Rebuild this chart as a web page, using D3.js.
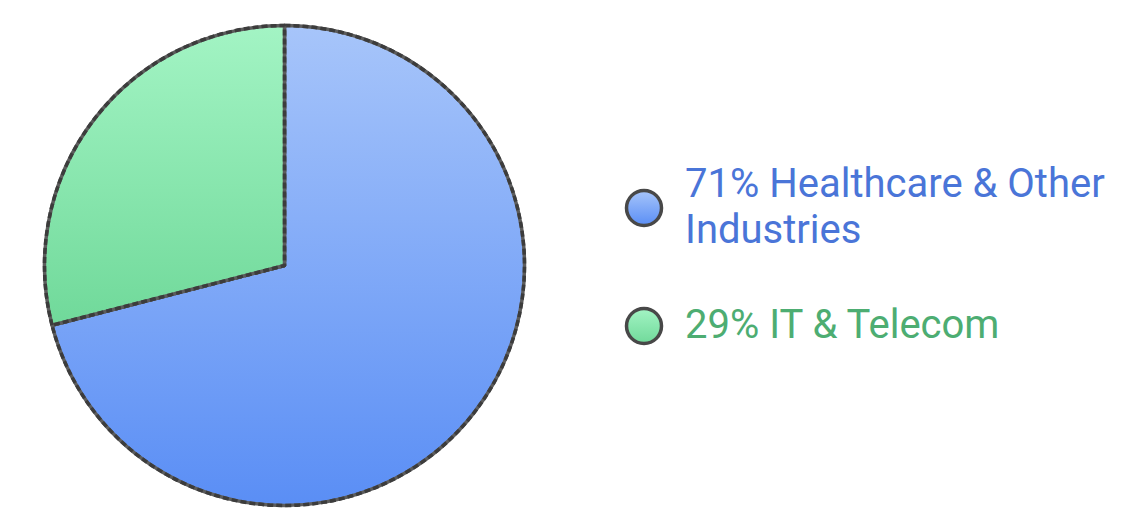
<!DOCTYPE html>
<html>
<head>
<meta charset="utf-8">
<script src="https://cdn.jsdelivr.net/npm/d3@7"></script>
<style>
  body { margin: 0; background: #fff; }
  svg { display: block; font-family: Roboto, "Noto Sans", sans-serif; }
</style>
</head>
<body>
<div id="chart"></div>
<script>
// data
const categories = ["Healthcare & Other Industries", "IT & Telecom"];
const shares = [71, 29];
const legendLines = [["71% Healthcare & Other", "Industries"], ["29% IT & Telecom"]];
const gradTop = ["#a7c5fa", "#a3f4c4"];
const gradBottom = ["#5a8ef5", "#70d99a"];
const textColors = ["#4a75d8", "#4dad72"];

const buildChart = () => {
  const width = 1138, height = 526;
  const cx = 284.5, cy = 265.5, radius = 240;

  const svg = d3.select("#chart").append("svg")
    .attr("width", width)
    .attr("height", height);

  const defs = svg.append("defs");
  categories.forEach((c, i) => {
    const g = defs.append("linearGradient")
      .attr("id", "grad" + i)
      .attr("x1", 0).attr("y1", 0).attr("x2", 0).attr("y2", 1);
    g.append("stop").attr("offset", "0%").attr("stop-color", gradTop[i]);
    g.append("stop").attr("offset", "100%").attr("stop-color", gradBottom[i]);
  });

  const pie = d3.pie().sort(null).value(d => d);
  const arc = d3.arc().innerRadius(0).outerRadius(radius);

  const slices = svg.append("g")
    .attr("transform", `translate(${cx},${cy})`)
    .selectAll("g")
    .data(pie(shares))
    .enter()
    .append("g");

  slices.append("path")
    .attr("d", arc)
    .attr("fill", (d, i) => `url(#grad${i})`)
    .attr("stroke", "#5c5c5c")
    .attr("stroke-width", 3.5)
    .attr("stroke-linejoin", "round");

  // dashed darker overlay on the outline
  slices.append("path")
    .attr("d", arc)
    .attr("fill", "none")
    .attr("stroke", "#3c3c3c")
    .attr("stroke-width", 3.5)
    .attr("stroke-dasharray", "6 3")
    .attr("stroke-linejoin", "round");

  // legend
  const legendX = 644, circleY = [208, 326], textBase = [197, 338];
  const legend = svg.append("g").attr("class", "legend");

  categories.forEach((c, i) => {
    legend.append("circle")
      .attr("cx", legendX)
      .attr("cy", circleY[i])
      .attr("r", 17.5)
      .attr("fill", `url(#grad${i})`)
      .attr("stroke", "#484848")
      .attr("stroke-width", 3.5);

    const text = legend.append("text")
      .attr("x", 685)
      .attr("y", textBase[i])
      .attr("font-size", "40px")
      .attr("fill", textColors[i]);
    legendLines[i].forEach((line, j) => {
      text.append("tspan")
        .attr("x", 685)
        .attr("y", textBase[i] + j * 46)
        .text(line);
    });
  });
};

document.addEventListener("DOMContentLoaded", buildChart);
</script>
</body>
</html>
